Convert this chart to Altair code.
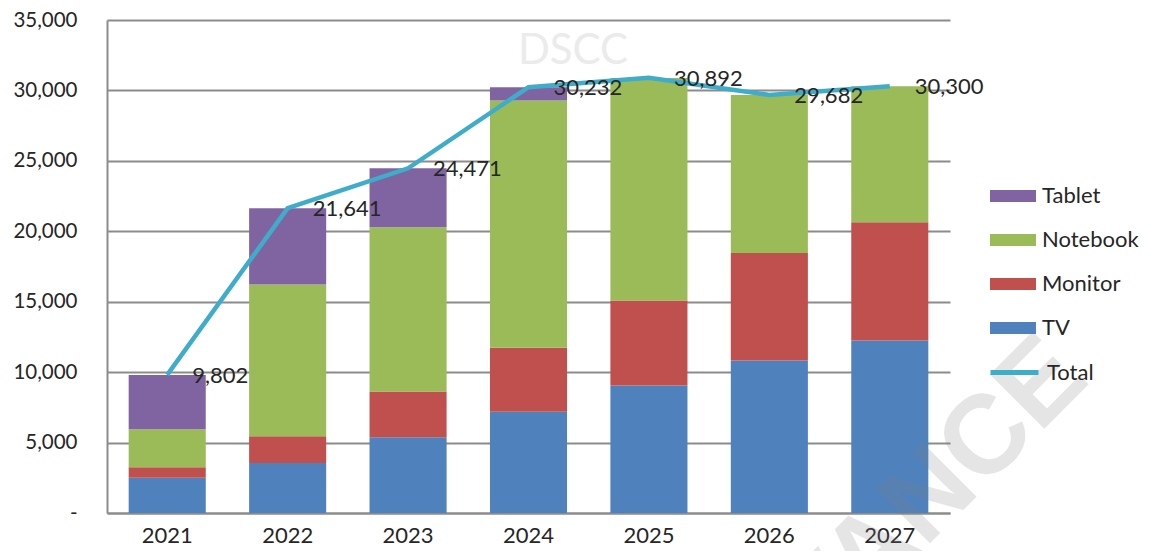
import altair as alt
import pandas as pd

years = ["2021", "2022", "2023", "2024", "2025", "2026", "2027"]
tv = [2500, 3550, 5380, 7180, 9050, 10830, 12250]
monitor = [750, 1900, 3240, 4560, 6040, 7630, 8400]
notebook = [2700, 10780, 11670, 17550, 15800, 11220, 9650]
tablet = [3850, 5410, 4180, 940, 0, 0, 0]
total = [9802, 21641, 24471, 30232, 30892, 29682, 30300]

series_names = ["TV", "Monitor", "Notebook", "Tablet"]
series_vals = [tv, monitor, notebook, tablet]
legend_order = ["Tablet", "Notebook", "Monitor", "TV"]
legend_colors = ["#8064A2", "#9BBB59", "#C0504D", "#4F81BD"]
y_ticks = [0, 5000, 10000, 15000, 20000, 25000, 30000, 35000]

rows = []
for i, yr in enumerate(years):
    for k, (name, vals) in enumerate(zip(series_names, series_vals)):
        rows.append({"year": yr, "series": name, "value": vals[i], "k": k})
bars_df = pd.DataFrame(rows)
tot_df = pd.DataFrame({"year": years, "total": total, "series": ["Total"] * len(years)})

FONT = "Lato"
TXT = "#262626"
GRID = "#8c8c8c"

yscale = alt.Scale(domain=[0, 35000])
xscale = alt.Scale(paddingInner=0.36, paddingOuter=0.18)

xaxis = alt.Axis(title=None, labelAngle=0, labelFontSize=22, labelPadding=12,
                 ticks=False, domainColor=GRID, domainWidth=2,
                 labelColor=TXT, labelFont=FONT)
yaxis = alt.Axis(title=None, values=y_ticks,
                 labelExpr="datum.value == 0 ? '-\u00a0\u00a0' : format(datum.value, ',')",
                 grid=True, gridColor=GRID, gridWidth=2, ticks=False,
                 labelPadding=30, domainColor=GRID, domainWidth=2,
                 labelFontSize=20.5, labelColor=TXT, labelFont=FONT)

bars = alt.Chart(bars_df).mark_bar().encode(
    x=alt.X("year:O", scale=xscale, axis=xaxis, title=None),
    y=alt.Y("value:Q", stack="zero", scale=yscale, axis=yaxis, title=None),
    color=alt.Color(
        "series:N",
        scale=alt.Scale(domain=legend_order, range=legend_colors),
        legend=alt.Legend(
            title=None, orient="none", legendX=884, legendY=154,
            symbolType="M-1.045,-0.27H1.045V0.27H-1.045Z", symbolSize=1936,
            symbolStrokeWidth=0, symbolOpacity=1,
            labelFontSize=22, labelOffset=7, rowPadding=11,
            labelFont=FONT, labelColor=TXT,
        ),
    ),
    order=alt.Order("k:Q", sort="ascending"),
)

dscc = alt.Chart(pd.DataFrame({"t": ["DSCC"]})).mark_text(
    fontSize=42, font=FONT, color="#ebebeb", align="center", baseline="middle"
).encode(text="t:N", x=alt.value(466), y=alt.value(31))

line = alt.Chart(tot_df).mark_line(strokeWidth=4.5).encode(
    x=alt.X("year:O", scale=xscale, title=None),
    y=alt.Y("total:Q", scale=yscale, title=None),
    stroke=alt.Stroke(
        "series:N",
        scale=alt.Scale(domain=["Total"], range=["#3FADC9"]),
        legend=alt.Legend(
            title=None, orient="none", legendX=881, legendY=326,
            symbolType="stroke", symbolSize=2304, symbolStrokeWidth=5,
            labelFontSize=22, labelOffset=6, labelFont=FONT, labelColor=TXT,
        ),
    ),
)

labels = alt.Chart(tot_df).mark_text(
    align="left", baseline="middle", dx=25, dy=1, fontSize=22, font=FONT, color=TXT
).encode(
    x=alt.X("year:O", scale=xscale, title=None),
    y=alt.Y("total:Q", scale=yscale, title=None),
    text=alt.Text("total:Q", format=","),
)

adv = alt.Chart(pd.DataFrame({"t": ["ADVANCE"]})).mark_text(
    fontSize=112, font="Liberation Sans", fontWeight="bold", color="#808080",
    opacity=0.2, angle=315, align="center", baseline="middle"
).encode(text="t:N", x=alt.value(768), y=alt.value(530))

chart = alt.layer(bars, dscc, line, labels, adv).properties(
    width=843, height=493,
    padding={"left": 99, "top": 12, "right": 191, "bottom": 38},
    autosize="none",
).configure_view(stroke=None)

chart.save("out.html", embed_options={"renderer": "svg", "actions": False})
